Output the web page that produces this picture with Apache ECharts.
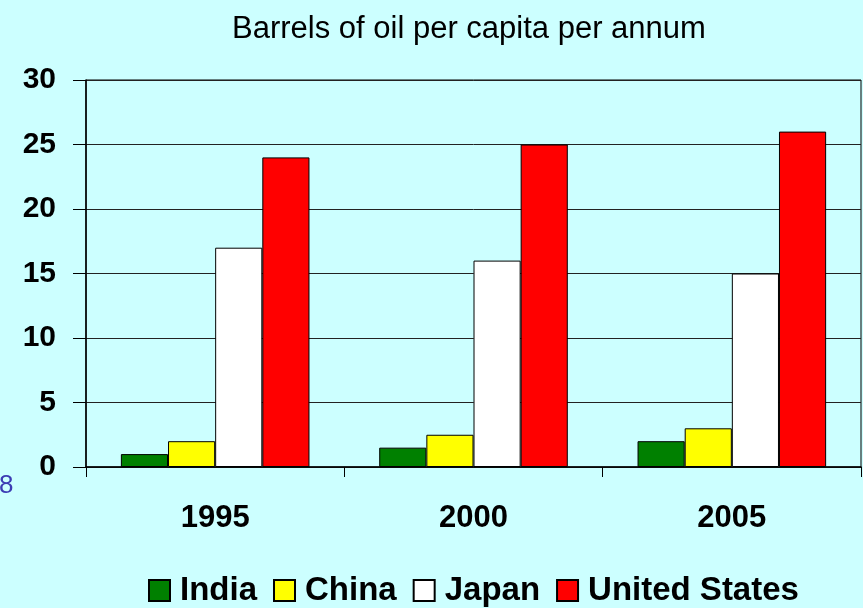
<!DOCTYPE html>
<html>
<head>
<meta charset="utf-8">
<script src="https://cdn.jsdelivr.net/npm/echarts@6/dist/echarts.min.js"></script>
<style>
  html, body { margin: 0; padding: 0; background: #CCFFFF; }
  #chart { width: 863px; height: 608px; }
</style>
</head>
<body>
<div id="chart"></div>
<script>
// Barrels of oil per capita per annum, by country and year
const years = ['1995', '2000', '2005'];
const india = [1, 1.5, 2];
const china = [2, 2.5, 3];
const japan = [17, 16, 15];
const unitedStates = [24, 25, 26];
const yTicks = [0, 5, 10, 15, 20, 25, 30];

const seriesDefs = [
  { name: 'India', data: india, color: '#008000' },
  { name: 'China', data: china, color: '#FFFF00' },
  { name: 'Japan', data: japan, color: '#FFFFFF' },
  { name: 'United States', data: unitedStates, color: '#FF0000' }
];

const FONT = 'Liberation Sans, Arial, sans-serif';

const chart = echarts.init(document.getElementById('chart'));
chart.setOption({
  backgroundColor: '#CCFFFF',
  animation: false,
  textStyle: { fontFamily: FONT },
  title: {
    text: 'Barrels of oil per capita per annum',
    left: 232,
    top: 14,
    padding: 0,
    textStyle: { fontSize: 31, fontWeight: 'normal', color: '#000', fontFamily: FONT }
  },
  graphic: [{
    type: 'text',
    left: -1,
    top: 473,
    style: { text: '8', fontSize: 26, fill: '#3C3CB4', fontFamily: FONT }
  }],
  legend: {
    top: 574,
    left: 148,
    padding: 0,
    icon: 'rect',
    itemWidth: 21,
    itemHeight: 21,
    itemGap: 16,
    textStyle: { fontSize: 33, fontWeight: 'bold', color: '#000', fontFamily: FONT, padding: [0, 0, 0, 5] },
    data: seriesDefs.map(s => s.name)
  },
  grid: {
    left: 86, right: 2, top: 80, bottom: 141,
    show: true, borderColor: '#000', borderWidth: 1, backgroundColor: 'transparent'
  },
  xAxis: {
    type: 'category',
    data: years,
    axisLine: { lineStyle: { color: '#000', width: 1.5 } },
    axisTick: { show: true, length: 10, lineStyle: { color: '#000' } },
    axisLabel: { fontSize: 31, fontWeight: 'bold', color: '#000', margin: 36, fontFamily: FONT }
  },
  yAxis: {
    type: 'value',
    min: yTicks[0],
    max: yTicks[yTicks.length - 1],
    interval: 5,
    axisLine: { show: true, lineStyle: { color: '#000', width: 1.5 } },
    axisTick: { show: true, length: 13, lineStyle: { color: '#000' } },
    splitLine: { lineStyle: { color: '#222', width: 1 } },
    axisLabel: { fontSize: 30, fontWeight: 'bold', color: '#000', margin: 30, fontFamily: FONT }
  },
  series: seriesDefs.map(s => ({
    name: s.name,
    type: 'bar',
    data: s.data,
    barGap: '0%',
    barCategoryGap: '27%',
    itemStyle: { color: s.color, borderColor: '#000', borderWidth: 1 }
  }))
});
</script>
</body>
</html>
